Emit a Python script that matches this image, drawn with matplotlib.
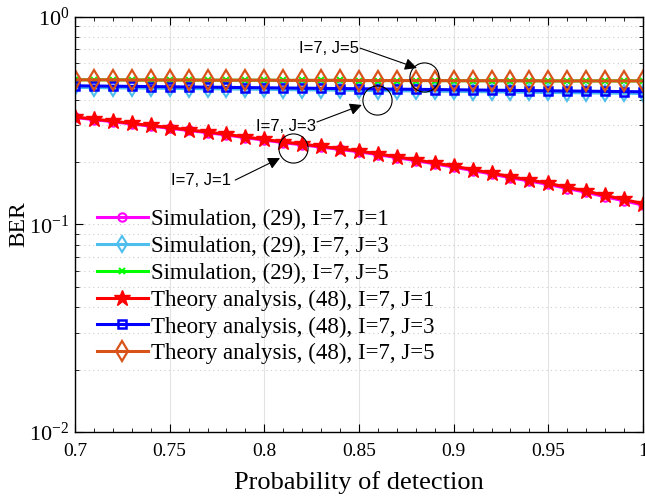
import numpy as np
import matplotlib.pyplot as plt
from matplotlib.ticker import LogLocator, NullFormatter

# data
pd_det = np.round(np.arange(0.70, 1.0001, 0.01), 2)

theory_j1 = [0.330, 0.322, 0.315, 0.307, 0.300, 0.293, 0.286, 0.279, 0.272, 0.264,
             0.257, 0.250, 0.244, 0.238, 0.232, 0.226, 0.219, 0.212, 0.205, 0.198,
             0.191, 0.184, 0.177, 0.170, 0.164, 0.158, 0.151, 0.145, 0.138, 0.132, 0.126]
sim_j1 = [0.328, 0.320, 0.313, 0.305, 0.298, 0.291, 0.284, 0.277, 0.270, 0.262,
          0.255, 0.248, 0.242, 0.236, 0.230, 0.224, 0.217, 0.210, 0.203, 0.196,
          0.189, 0.182, 0.175, 0.168, 0.162, 0.156, 0.149, 0.143, 0.136, 0.130, 0.124]
theory_j3 = [0.466, 0.465, 0.464, 0.463, 0.462, 0.461, 0.460, 0.459, 0.458, 0.457,
             0.456, 0.455, 0.454, 0.453, 0.452, 0.451, 0.450, 0.449, 0.448, 0.447,
             0.446, 0.445, 0.444, 0.443, 0.442, 0.441, 0.440, 0.439, 0.438, 0.437, 0.436]
sim_j3 = [0.458, 0.457, 0.456, 0.455, 0.454, 0.453, 0.452, 0.451, 0.450, 0.449,
          0.448, 0.447, 0.446, 0.445, 0.444, 0.443, 0.442, 0.441, 0.440, 0.439,
          0.438, 0.437, 0.436, 0.435, 0.434, 0.433, 0.432, 0.431, 0.430, 0.429, 0.428]
theory_j5 = [0.498, 0.498, 0.498, 0.497, 0.497, 0.497, 0.497, 0.496, 0.496, 0.496,
             0.496, 0.495, 0.495, 0.495, 0.495, 0.494, 0.494, 0.494, 0.494, 0.494,
             0.493, 0.493, 0.493, 0.493, 0.493, 0.492, 0.492, 0.492, 0.492, 0.492, 0.492]
sim_j5 = theory_j5

labels = ["Simulation, (29), I=7, J=1", "Simulation, (29), I=7, J=3",
          "Simulation, (29), I=7, J=5", "Theory analysis, (48), I=7, J=1",
          "Theory analysis, (48), I=7, J=3", "Theory analysis, (48), I=7, J=5"]

plt.rcParams["font.family"] = ["Liberation Serif", "DejaVu Serif"]
plt.rcParams["mathtext.fontset"] = "stix"

fig = plt.figure(figsize=(6.45, 5.03), dpi=100)
ax = fig.add_axes([0.1163, 0.1412, 0.8806, 0.825])

lw = 2.2
ax.plot(pd_det, sim_j1, "-o", color="#FF00FF", lw=lw, ms=6, mfc="none", mew=1.5, label=labels[0])
ax.plot(pd_det, sim_j3, "-d", color="#4DBEEE", lw=lw, ms=8, mfc="none", mew=1.5, label=labels[1])
ax.plot(pd_det, sim_j5, "-x", color="#00FF00", lw=lw, ms=5, mew=1.5, label=labels[2])
ax.plot(pd_det, theory_j1, "-*", color="#FF0000", lw=lw, ms=12, label=labels[3])
ax.plot(pd_det, theory_j3, "-s", color="#0000FF", lw=lw, ms=6, mfc="none", mew=1.8, label=labels[4])
ax.plot(pd_det, theory_j5, "-d", color="#D95319", lw=lw, ms=10, mfc="none", mew=1.6, label=labels[5])

ax.set_yscale("log")
ax.set_xlim(0.7, 1.0)
ax.set_ylim(1e-2, 1)
ax.set_xticks([0.7, 0.75, 0.8, 0.85, 0.9, 0.95, 1.0])
ax.set_xticklabels(["0.7", "0.75", "0.8", "0.85", "0.9", "0.95", "1"])
ax.set_xticks(np.arange(0.7, 1.0001, 0.01), minor=True)
ax.yaxis.set_major_locator(LogLocator(base=10, numticks=5))
ax.yaxis.set_minor_locator(LogLocator(base=10, subs=np.arange(2, 10), numticks=20))
ax.yaxis.set_minor_formatter(NullFormatter())

ax.tick_params(which="both", direction="in", top=True, right=True)
ax.tick_params(axis="x", labelsize=14, pad=8)
ax.tick_params(axis="y", labelsize=16, pad=4)
ax.tick_params(which="major", length=6)
ax.tick_params(which="minor", length=3)
ax.grid(True, axis="x", which="major", color="#e3e3e3", lw=0.8)
ax.grid(True, axis="y", which="both", color="#cccccc", lw=0.8, ls=(0, (1, 3)))
ax.set_axisbelow(True)
for s in ax.spines.values():
    s.set_linewidth(1.0)

ax.set_xlabel("Probability of detection", fontsize=19, labelpad=8)
ax.set_ylabel("BER", fontsize=17, labelpad=0)

leg = ax.legend(loc="upper left", bbox_to_anchor=(0.023, 0.56), frameon=False,
                fontsize=16.5, handlelength=2.2, handletextpad=0.15, labelspacing=0.25,
                borderaxespad=0)

# annotations (axes fraction)
circles = [(0.384, 0.684), (0.532, 0.800), (0.614, 0.855)]
texts = ["I=7, J=1", "I=7, J=3", "I=7, J=5"]
text_pos = [(0.222, 0.607), (0.371, 0.737), (0.447, 0.923)]
arrows = [((0.282, 0.607), (0.361, 0.660)),
          ((0.426, 0.747), (0.505, 0.788)),
          ((0.502, 0.925), (0.602, 0.877))]
for (cx, cy), t, (tx, ty), (a0, a1) in zip(circles, texts, text_pos, arrows):
    ax.plot(cx, cy, "o", transform=ax.transAxes, ms=21, mfc="none", mec="k", mew=0.8, zorder=5)
    ax.text(tx, ty, t, transform=ax.transAxes, ha="center", va="center",
            fontsize=12, family=["Liberation Sans", "DejaVu Sans"])
    ax.annotate("", xy=a1, xytext=a0, xycoords="axes fraction", textcoords="axes fraction",
                arrowprops=dict(arrowstyle="-|>", color="k", lw=0.8, mutation_scale=18,
                                shrinkA=0, shrinkB=0))

fig.savefig("out.png", dpi=100)
